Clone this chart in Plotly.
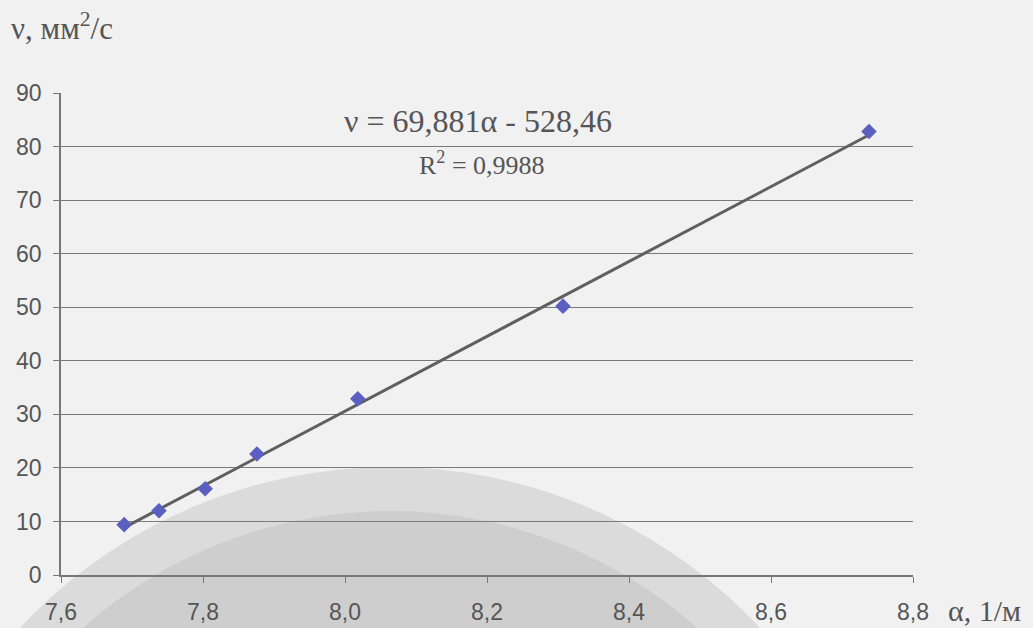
import plotly.graph_objects as go

alpha = [7.689, 7.738, 7.803, 7.876, 8.018, 8.307, 8.738]
nu = [9.4, 12.0, 16.1, 22.6, 32.9, 50.2, 82.8]
slope = 69.881
intercept = -528.46
x_ticks = [7.6, 7.8, 8.0, 8.2, 8.4, 8.6, 8.8]
x_tick_text = ["7,6", "7,8", "8,0", "8,2", "8,4", "8,6", "8,8"]
y_ticks = [0, 10, 20, 30, 40, 50, 60, 70, 80, 90]

trend_x = [min(alpha), max(alpha)]
trend_y = [slope * v + intercept for v in trend_x]

L, R, T, B = 61, 120, 93, 53
W, H = 1033, 628
PW, PH = W - L - R, H - T - B


def px(X):
    return (X - L) / PW


def py(Y):
    return (H - B - Y) / PH


serif = "Liberation Serif, Times New Roman, serif"
txt = "#555555"

fig = go.Figure()
fig.add_trace(go.Scatter(x=trend_x, y=trend_y, mode="lines",
                         line=dict(color="#5f5f5f", width=3), showlegend=False))
fig.add_trace(go.Scatter(x=alpha, y=nu, mode="markers",
                         marker=dict(symbol="diamond", size=12, color="#5b5fc0"),
                         showlegend=False))

# faint background emblem
cx, cy = 390, 973
shapes = []
for r, col in [(506, "rgba(205,205,205,0.6)"), (462, "rgba(190,190,190,0.45)")]:
    shapes.append(dict(type="circle", xref="paper", yref="paper",
                       x0=px(cx - r), x1=px(cx + r), y0=py(cy + r), y1=py(cy - r),
                       fillcolor=col, line=dict(width=0), layer="below"))

fig.update_layout(
    width=W, height=H,
    margin=dict(l=L, r=R, t=T, b=B, autoexpand=False),
    paper_bgcolor="#f1f1f1", plot_bgcolor="rgba(0,0,0,0)",
    font=dict(family="Liberation Sans, Arial", size=23, color=txt),
    shapes=shapes,
    xaxis=dict(range=[7.6, 8.8], tickvals=x_ticks, ticktext=x_tick_text,
               showgrid=False, zeroline=False, showline=True, linecolor="#777777",
               linewidth=1.5, ticks="outside", ticklen=6, tickcolor="#777777",
               ticklabelstandoff=10, automargin=False,
               tickfont=dict(size=23, color=txt)),
    yaxis=dict(range=[0, 90], tickvals=y_ticks, showgrid=True, gridcolor="#7a7a7a",
               gridwidth=1.2, zeroline=False, showline=True, linecolor="#777777",
               linewidth=1.5, ticks="outside", ticklen=6, tickcolor="#777777",
               ticklabelstandoff=7, automargin=False,
               tickfont=dict(size=23, color=txt)),
    annotations=[
        dict(text="ν, мм<sup>2</sup>/с", xref="paper", yref="paper", x=px(9), y=py(26),
             xanchor="left", yanchor="middle", showarrow=False,
             font=dict(family=serif, size=31, color=txt)),
        dict(text="α, 1/м", xref="paper", yref="paper", x=px(946), y=py(610),
             xanchor="left", yanchor="middle", showarrow=False,
             font=dict(family=serif, size=30, color=txt)),
        dict(text="ν = 69,881α - 528,46", xref="paper", yref="paper", x=px(478),
             y=py(121), xanchor="center", yanchor="middle", showarrow=False,
             font=dict(family=serif, size=32, color=txt)),
        dict(text="R<sup>2</sup> = 0,9988", xref="paper", yref="paper", x=px(482),
             y=py(163), xanchor="center", yanchor="middle", showarrow=False,
             font=dict(family=serif, size=26, color=txt)),
    ],
)

fig.write_html("out.html")
